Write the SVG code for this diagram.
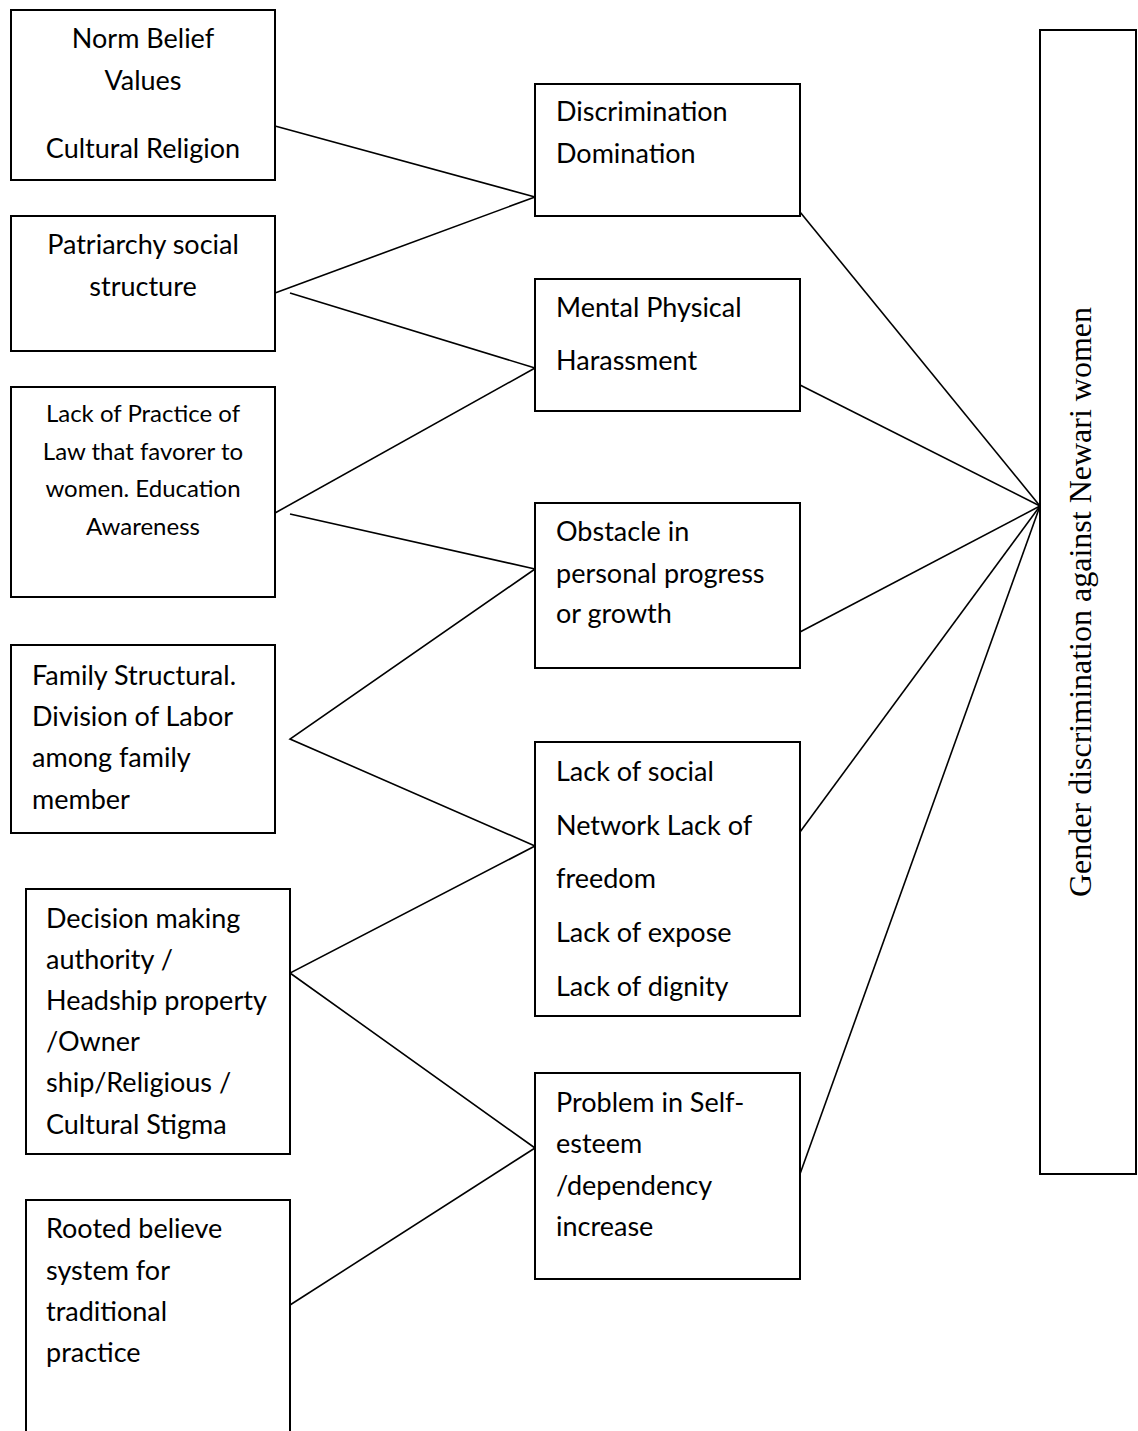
<svg xmlns="http://www.w3.org/2000/svg" width="1138" height="1431" viewBox="0 0 1138 1431">
<style>
.box{fill:#fff;stroke:#000;stroke-width:2}
.t{font-family:Lato,"Liberation Sans",sans-serif;font-size:27px;fill:#000}
.s{font-size:24px}
.c{text-anchor:middle}
.v{font-family:"Liberation Serif","Times New Roman",serif;font-size:32px;fill:#000;text-anchor:middle}
.ln{stroke:#000;stroke-width:1.6;fill:none}
</style>
<rect width="1138" height="1431" fill="#fff"/>
<g id="connectors">
<line class="ln" x1="275" y1="126" x2="535" y2="197"/>
<line class="ln" x1="275" y1="293" x2="535" y2="197"/>
<line class="ln" x1="290" y1="293" x2="535" y2="368"/>
<line class="ln" x1="275" y1="513" x2="535" y2="368"/>
<line class="ln" x1="290" y1="514" x2="535" y2="569"/>
<polyline class="ln" points="535,569 290,739 535,846"/>
<polyline class="ln" points="535,846 290,973 535,1148"/>
<line class="ln" x1="290" y1="1305" x2="535" y2="1148"/>
<line class="ln" x1="800" y1="212" x2="1040" y2="506"/>
<line class="ln" x1="800" y1="385" x2="1040" y2="506"/>
<line class="ln" x1="800" y1="632" x2="1040" y2="506"/>
<line class="ln" x1="800" y1="832" x2="1040" y2="506"/>
<line class="ln" x1="800" y1="1174" x2="1040" y2="506"/>
</g>
<g id="n-norm">
<rect class="box" x="11" y="10" width="264" height="170"/>
<text class="t c" x="143" y="48">Norm Belief</text>
<text class="t c" x="143" y="90">Values</text>
<text class="t c" x="143" y="158">Cultural Religion</text>
</g>
<g id="n-patriarchy">
<rect class="box" x="11" y="216" width="264" height="135"/>
<text class="t c" x="143" y="254">Patriarchy social</text>
<text class="t c" x="143" y="296">structure</text>
</g>
<g id="n-law">
<rect class="box" x="11" y="387" width="264" height="210"/>
<text class="t s c" x="143" y="422">Lack of Practice of</text>
<text class="t s c" x="143" y="460">Law that favorer to</text>
<text class="t s c" x="143" y="497">women. Education</text>
<text class="t s c" x="143" y="535">Awareness</text>
</g>
<g id="n-family">
<rect class="box" x="11" y="645" width="264" height="188"/>
<text class="t" x="32" y="685">Family Structural.</text>
<text class="t" x="32" y="726">Division of Labor</text>
<text class="t" x="32" y="767">among family</text>
<text class="t" x="32" y="809">member</text>
</g>
<g id="n-decision">
<rect class="box" x="26" y="889" width="264" height="265"/>
<text class="t" x="46" y="928">Decision making</text>
<text class="t" x="46" y="969">authority /</text>
<text class="t" x="46" y="1010">Headship property</text>
<text class="t" x="46" y="1051">/Owner</text>
<text class="t" x="46" y="1092">ship/Religious /</text>
<text class="t" x="46" y="1134">Cultural Stigma</text>
</g>
<g id="n-rooted">
<path class="box" d="M26,1440 V1200 H290 V1440"/>
<text class="t" x="46" y="1238">Rooted believe</text>
<text class="t" x="46" y="1280">system for</text>
<text class="t" x="46" y="1321">traditional</text>
<text class="t" x="46" y="1362">practice</text>
</g>
<g id="n-discrimination">
<rect class="box" x="535" y="84" width="265" height="132"/>
<text class="t" x="556" y="121">Discrimination</text>
<text class="t" x="556" y="163">Domination</text>
</g>
<g id="n-harassment">
<rect class="box" x="535" y="279" width="265" height="132"/>
<text class="t" x="556" y="317">Mental Physical</text>
<text class="t" x="556" y="370">Harassment</text>
</g>
<g id="n-obstacle">
<rect class="box" x="535" y="503" width="265" height="165"/>
<text class="t" x="556" y="541">Obstacle in</text>
<text class="t" x="556" y="583">personal progress</text>
<text class="t" x="556" y="623">or growth</text>
</g>
<g id="n-social">
<rect class="box" x="535" y="742" width="265" height="274"/>
<text class="t" x="556" y="781">Lack of social</text>
<text class="t" x="556" y="835">Network Lack of</text>
<text class="t" x="556" y="888">freedom</text>
<text class="t" x="556" y="942">Lack of expose</text>
<text class="t" x="556" y="996">Lack of dignity</text>
</g>
<g id="n-selfesteem">
<rect class="box" x="535" y="1073" width="265" height="206"/>
<text class="t" x="556" y="1112">Problem in Self-</text>
<text class="t" x="556" y="1153">esteem</text>
<text class="t" x="556" y="1195">/dependency</text>
<text class="t" x="556" y="1236">increase</text>
</g>
<g id="n-gender">
<rect class="box" x="1040" y="30" width="96" height="1144"/>
<text class="v" transform="translate(1091,602) rotate(-90)">Gender discrimination against Newari women</text>
</g>
</svg>
